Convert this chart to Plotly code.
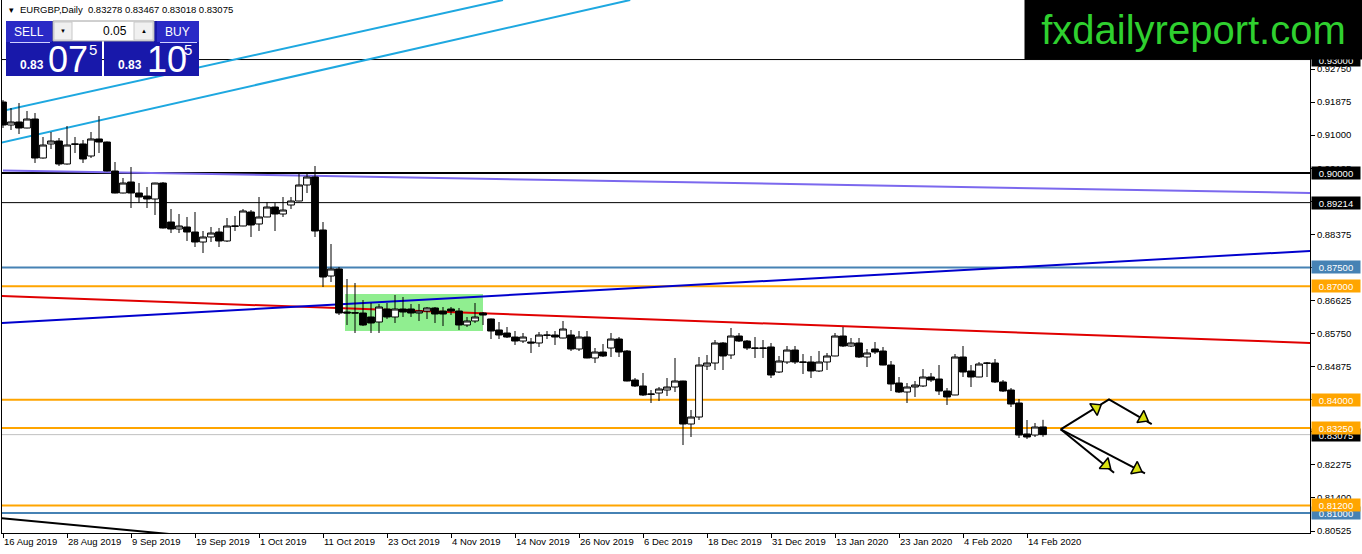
import plotly.graph_objects as go

# ---------------- data ----------------
date_labels = ["16 Aug 2019", "28 Aug 2019", "9 Sep 2019", "19 Sep 2019", "1 Oct 2019",
               "11 Oct 2019", "23 Oct 2019", "4 Nov 2019", "14 Nov 2019", "26 Nov 2019",
               "6 Dec 2019", "18 Dec 2019", "31 Dec 2019", "13 Jan 2020", "23 Jan 2020",
               "4 Feb 2020", "14 Feb 2020"]
date_label_bars = [0, 8, 16, 24, 32, 40, 48, 56, 64, 72, 80, 88, 96, 104, 112, 120, 128]

opens = [0.91877, 0.91268, 0.91348, 0.91189, 0.91427, 0.90395, 0.90766, 0.90845, 0.90236, 0.90766,
         0.90766, 0.90448, 0.90898, 0.90818, 0.90051, 0.89469, 0.89760, 0.89469, 0.89389, 0.89310,
         0.89733, 0.88701, 0.88516, 0.88569, 0.88437, 0.88172, 0.88305, 0.88437, 0.88199, 0.88596,
         0.88596, 0.88966, 0.88649, 0.88834, 0.89098, 0.88913, 0.89151, 0.89257, 0.89681, 0.89892,
         0.88490, 0.87272, 0.87458, 0.86320, 0.86300, 0.86293, 0.86188, 0.86055, 0.86399, 0.86188,
         0.86399, 0.86399, 0.86293, 0.86346, 0.86426, 0.86346, 0.86399, 0.86346, 0.85976, 0.86082,
         0.86293, 0.86135, 0.85844, 0.85764, 0.85658, 0.85552, 0.85526, 0.85500, 0.85711, 0.85711,
         0.85632, 0.85711, 0.85341, 0.85658, 0.85103, 0.85261, 0.85367, 0.85605, 0.85288, 0.84520,
         0.84362, 0.84150, 0.84176, 0.84256, 0.84335, 0.84494, 0.83356, 0.83541, 0.84891, 0.84970,
         0.85500, 0.85182, 0.85685, 0.85552, 0.85367, 0.85367, 0.85394, 0.84732, 0.84997, 0.85314,
         0.84997, 0.84997, 0.84759, 0.84997, 0.85156, 0.85685, 0.85420, 0.85500, 0.85129, 0.85341,
         0.85288, 0.84917, 0.84441, 0.84203, 0.84335, 0.84362, 0.84600, 0.84547, 0.84229, 0.84124,
         0.85129, 0.84759, 0.84600, 0.84970, 0.84970, 0.84468, 0.84256, 0.83912, 0.83092, 0.83065,
         0.83278]
highs = [0.91930, 0.91718, 0.91850, 0.91639, 0.91586, 0.90951, 0.91083, 0.90924, 0.91242, 0.90951,
         0.90871, 0.91083, 0.91506, 0.90830, 0.90289, 0.89866, 0.90157, 0.89733, 0.89628, 0.89740,
         0.89760, 0.89045, 0.88913, 0.88834, 0.88966, 0.88463, 0.88569, 0.88543, 0.88807, 0.88860,
         0.89045, 0.89019, 0.89363, 0.89231, 0.89204, 0.89363, 0.89363, 0.89998, 0.89998, 0.90183,
         0.88701, 0.88119, 0.87511, 0.87193, 0.87087, 0.86637, 0.86558, 0.86532, 0.86558, 0.86770,
         0.86717, 0.86532, 0.86532, 0.86452, 0.86452, 0.86452, 0.86452, 0.86426, 0.86188, 0.86558,
         0.86320, 0.86145, 0.86055, 0.85923, 0.85817, 0.85764, 0.85632, 0.85791, 0.85817, 0.85817,
         0.86082, 0.85844, 0.85817, 0.85817, 0.85367, 0.85473, 0.85764, 0.85658, 0.85314, 0.84573,
         0.84706, 0.84256, 0.84335, 0.84573, 0.85103, 0.84500, 0.83727, 0.85129, 0.85182, 0.85579,
         0.85526, 0.85897, 0.85764, 0.85579, 0.85658, 0.85579, 0.85500, 0.85156, 0.85420, 0.85420,
         0.85208, 0.85156, 0.85288, 0.85235, 0.85764, 0.85923, 0.85632, 0.85632, 0.85341, 0.85526,
         0.85394, 0.85023, 0.84600, 0.84441, 0.84494, 0.84811, 0.84706, 0.84917, 0.84309, 0.85208,
         0.85420, 0.84917, 0.84997, 0.84997, 0.85076, 0.84520, 0.84309, 0.84018, 0.83462, 0.83383,
         0.83467]
lows = [0.91189, 0.91136, 0.91030, 0.91180, 0.90263, 0.90380, 0.90633, 0.90183, 0.90220, 0.90527,
        0.90263, 0.90395, 0.90527, 0.90040, 0.89460, 0.89460, 0.89072, 0.89204, 0.89072, 0.88887,
        0.88530, 0.88410, 0.88410, 0.88199, 0.88040, 0.87881, 0.88172, 0.88040, 0.88172, 0.88463,
        0.88590, 0.88305, 0.88463, 0.88830, 0.88463, 0.88834, 0.89045, 0.89250, 0.89469, 0.88305,
        0.86981, 0.87114, 0.86240, 0.85976, 0.85764, 0.85949, 0.85764, 0.85764, 0.86135, 0.86029,
        0.86188, 0.86188, 0.86082, 0.86135, 0.86029, 0.85949, 0.86240, 0.85844, 0.85923, 0.86029,
        0.85976, 0.85605, 0.85605, 0.85632, 0.85447, 0.85500, 0.85235, 0.85394, 0.85605, 0.85447,
        0.85625, 0.85288, 0.85288, 0.85095, 0.84970, 0.85129, 0.85129, 0.85129, 0.84485, 0.84335,
        0.84097, 0.83912, 0.83965, 0.84097, 0.84203, 0.82800, 0.83012, 0.83462, 0.84785, 0.84785,
        0.84785, 0.85076, 0.85526, 0.85314, 0.85103, 0.85103, 0.84573, 0.84706, 0.84944, 0.84944,
        0.84679, 0.84573, 0.84732, 0.84785, 0.85150, 0.85394, 0.85394, 0.85103, 0.84864, 0.85208,
        0.84910, 0.84229, 0.84176, 0.83912, 0.84071, 0.84335, 0.84468, 0.84124, 0.83859, 0.84120,
        0.84600, 0.84335, 0.84595, 0.84600, 0.84441, 0.84203, 0.83806, 0.82986, 0.82959, 0.83012,
        0.83018]
closes = [0.91268, 0.91348, 0.91189, 0.91427, 0.90395, 0.90739, 0.90845, 0.90236, 0.90739, 0.90760,
          0.90369, 0.90898, 0.90818, 0.90051, 0.89469, 0.89733, 0.89469, 0.89363, 0.89310, 0.89733,
          0.88543, 0.88516, 0.88596, 0.88437, 0.88172, 0.88305, 0.88410, 0.88199, 0.88596, 0.88590,
          0.88993, 0.88622, 0.88834, 0.89098, 0.88913, 0.89019, 0.89257, 0.89681, 0.89892, 0.88463,
          0.87246, 0.87458, 0.86293, 0.86293, 0.86293, 0.85976, 0.86029, 0.86452, 0.86188, 0.86399,
          0.86320, 0.86293, 0.86346, 0.86426, 0.86267, 0.86267, 0.86346, 0.85976, 0.86082, 0.86188,
          0.86240, 0.85817, 0.85711, 0.85658, 0.85552, 0.85658, 0.85500, 0.85711, 0.85705, 0.85658,
          0.85870, 0.85341, 0.85658, 0.85103, 0.85261, 0.85156, 0.85605, 0.85261, 0.84494, 0.84362,
          0.84124, 0.84144, 0.84282, 0.84335, 0.84494, 0.83356, 0.83541, 0.84917, 0.84970, 0.85500,
          0.85156, 0.85685, 0.85552, 0.85367, 0.85361, 0.85361, 0.84653, 0.85023, 0.85314, 0.84997,
          0.84991, 0.84759, 0.84997, 0.85156, 0.85685, 0.85420, 0.85500, 0.85129, 0.85235, 0.85261,
          0.84917, 0.84415, 0.84203, 0.84335, 0.84388, 0.84600, 0.84520, 0.84229, 0.84071, 0.85129,
          0.84732, 0.84600, 0.84944, 0.84964, 0.84468, 0.84229, 0.83885, 0.83065, 0.83012, 0.83277,
          0.83075]

price_ticks = [0.92750, 0.91875, 0.91000, 0.90125, 0.89250, 0.88375, 0.87500, 0.86625,
               0.85750, 0.84875, 0.84000, 0.83150, 0.82275, 0.81400, 0.80525]

# horizontal levels (price)
level_prices = [0.93000, 0.90000, 0.89214, 0.87500, 0.87000, 0.84000, 0.83075, 0.83250, 0.81000, 0.81200]

# trend lines: (bar index, price) start and end
trend_names = ["cyan_upper", "cyan_lower", "purple", "red", "blue", "black_low"]
trend_x0 = [-0.375, -0.375, 0.0, -0.375, -0.375, -0.375]
trend_p0 = [0.91626, 0.90792, 0.90064, 0.86743, 0.86029, 0.80869]
trend_x1 = [62.5, 78.4, 163.4, 163.4, 163.4, 22.1]
trend_p1 = [0.94576, 0.94576, 0.89469, 0.85500, 0.87934, 0.80419]

# green consolidation box
box_x = [42.75, 60.0]
box_p = [0.85817, 0.86796]

# projection arrows (bar index, price)
arrow_x = [132.21, 138.25, 143.59, None, 132.21, 138.88, None, 132.21, 142.75]
arrow_p = [0.83216, 0.84010, 0.83356, None, 0.83216, 0.82067, None, 0.83216, 0.82052]
head_x = [136.63, 142.50, 137.88, 141.71]
head_p = [0.83780, 0.83515, 0.82271, 0.82166]
head_angle = [58, 120, 129, 118]

# ---------------- styling / layout helpers ----------------
W, H = 1362, 554
ML, MR, MT, MB = 2, 52, 0, 21
PW, PH = W - ML - MR, H - MT - MB


def pxx(px):
    return (px - ML) / PW


def pxy(py):
    return 1 - (py - MT) / PH


FONT = "Liberation Sans, Arial, sans-serif"
ORANGE = "#FFA500"
STEEL = "#4682B4"

level_style = {
    0.93000: ("black", 1, "black"),
    0.90000: ("black", 2, "black"),
    0.89214: ("black", 1, "black"),
    0.87500: (STEEL, 2, STEEL),
    0.87000: (ORANGE, 2, ORANGE),
    0.84000: (ORANGE, 2, ORANGE),
    0.83075: ("#C0C0C0", 1, "black"),
    0.83250: (ORANGE, 2, ORANGE),
    0.81000: (STEEL, 2, STEEL),
    0.81200: (ORANGE, 2, ORANGE),
}
trend_style = {
    "cyan_upper": ("#1EA8E0", 2),
    "cyan_lower": ("#1EA8E0", 2),
    "purple": ("#7B68EE", 2),
    "red": ("#E00000", 2),
    "blue": ("#0000CD", 2),
    "black_low": ("black", 2),
}

bars = list(range(len(opens)))

fig = go.Figure()

fig.add_trace(go.Candlestick(
    x=bars, open=opens, high=highs, low=lows, close=closes,
    increasing=dict(line=dict(color="black", width=1), fillcolor="white"),
    decreasing=dict(line=dict(color="black", width=1), fillcolor="black"),
    whiskerwidth=0, hoverinfo="skip", showlegend=False))

fig.add_trace(go.Scatter(
    x=arrow_x, y=arrow_p, mode="lines", line=dict(color="black", width=2),
    hoverinfo="skip", showlegend=False, connectgaps=False))
fig.add_trace(go.Scatter(
    x=head_x, y=head_p, mode="markers",
    marker=dict(symbol="triangle-up", size=12, angle=head_angle, color="#D8E010",
                line=dict(color="black", width=1.5)),
    hoverinfo="skip", showlegend=False))

shapes = []
# green box
shapes.append(dict(type="rect", xref="x", yref="y", x0=box_x[0], x1=box_x[1],
                   y0=box_p[0], y1=box_p[1], fillcolor="#90EE90", line=dict(width=0),
                   layer="below"))
# horizontal levels
for p in level_prices:
    col, wid, _ = level_style[p]
    shapes.append(dict(type="line", xref="paper", yref="y", x0=0, x1=1, y0=p, y1=p,
                       line=dict(color=col, width=wid), layer="below"))
# trend lines
for name, a, b, c, d in zip(trend_names, trend_x0, trend_p0, trend_x1, trend_p1):
    col, wid = trend_style[name]
    shapes.append(dict(type="line", xref="x", yref="y", x0=a, y0=b, x1=c, y1=d,
                       line=dict(color=col, width=wid), layer="below"))


def prect(x0, y0, x1, y1, fill, line_col=None, lw=0):
    shapes.append(dict(type="rect", xref="paper", yref="paper",
                       x0=pxx(x0), x1=pxx(x1), y0=pxy(y1), y1=pxy(y0),
                       fillcolor=fill, line=dict(color=line_col or fill, width=lw),
                       layer="above"))


def pline(x0, y0, x1, y1, col, lw=1):
    shapes.append(dict(type="line", xref="paper", yref="paper",
                       x0=pxx(x0), x1=pxx(x1), y0=pxy(y0), y1=pxy(y1),
                       line=dict(color=col, width=lw), layer="above"))


# one-click trading panel
prect(6, 21, 102, 76, "#1818AA")
prect(104, 21, 199, 76, "#1818AA")
prect(6, 21, 52, 42, "#2A2AC6")
prect(157, 21, 199, 42, "#2A2AC6")
pline(10, 42.5, 50, 42.5, "#d0d0ff", 1)
pline(160, 42.5, 197, 42.5, "#d0d0ff", 1)
prect(53, 21, 154, 41, "white", "#a0a0a0", 1)
prect(54, 22, 72, 40, "#f0f0f0", "#c8c8c8", 1)
prect(134, 22, 153, 40, "#f0f0f0", "#c8c8c8", 1)

annotations = []


def ptext(x, y, text, size, color="white", xanchor="center", bold=False, font=FONT):
    if bold:
        text = "<b>" + text + "</b>"
    annotations.append(dict(xref="paper", yref="paper", x=pxx(x), y=pxy(y), text=text,
                            showarrow=False, xanchor=xanchor, yanchor="middle",
                            font=dict(family=font, size=size, color=color)))


ptext(11, 10, "▾", 9, "black")
ptext(18, 10, "EURGBP,Daily  0.83278 0.83467 0.83018 0.83075", 9.5, "black", "left")
ptext(29, 31.5, "SELL", 12)
ptext(178, 31.5, "BUY", 12)
ptext(63, 31, "▼", 6, "black")
ptext(143.5, 31, "▲", 6, "black")
ptext(129, 31, "0.05", 12, "black", "right")
ptext(32, 65, "0.83", 12, bold=True)
ptext(46, 59, "07", 36, xanchor="left")
ptext(87, 50, "5", 15, xanchor="left")
ptext(130, 65, "0.83", 12, bold=True)
ptext(145, 59, "10", 36, xanchor="left")
ptext(182, 50, "5", 15, xanchor="left")

# level price labels on the price scale
for p in level_prices:
    _, _, bg = level_style[p]
    annotations.append(dict(xref="paper", yref="y", x=1.0, y=p, xanchor="left",
                            yanchor="middle", xshift=1, text=f"{p:.5f}", showarrow=False,
                            bgcolor=bg, width=46, height=10, borderpad=1, align="center",
                            font=dict(family=FONT, size=9.5, color="white")))

# site badge
annotations.append(dict(xref="paper", yref="paper", x=pxx(1193.5), y=pxy(29.5),
                        xanchor="center", yanchor="middle", text="fxdailyreport.com",
                        showarrow=False, bgcolor="black", width=337, height=59,
                        borderpad=0, font=dict(family=FONT, size=40, color="#2FD02F")))

fig.update_layout(
    width=W, height=H,
    margin=dict(l=ML, r=MR, t=MT, b=MB),
    paper_bgcolor="white", plot_bgcolor="white",
    showlegend=False, boxgap=0.15, boxgroupgap=0,
    shapes=shapes, annotations=annotations,
    xaxis=dict(range=[-0.125, 163.375], rangeslider=dict(visible=False),
               tickmode="array", tickvals=date_label_bars, ticktext=date_labels,
               ticks="outside", ticklen=4, tickcolor="black",
               ticklabelposition="outside right",
               tickfont=dict(family=FONT, size=9.5, color="black"),
               showgrid=False, zeroline=False, showline=True, linecolor="black",
               linewidth=1, mirror=True, fixedrange=True),
    yaxis=dict(range=[0.80472, 0.94576], side="right", tickmode="array",
               tickvals=price_ticks, ticktext=[f"{v:.5f}" for v in price_ticks],
               ticks="outside", ticklen=4, tickcolor="black",
               tickfont=dict(family=FONT, size=9.5, color="black"),
               showgrid=False, zeroline=False, showline=True, linecolor="black",
               linewidth=1, mirror=True, fixedrange=True),
)

fig.write_html("out.html", config={"displayModeBar": False},
               post_script="document.body.style.margin='0';document.body.style.overflow='hidden';")
